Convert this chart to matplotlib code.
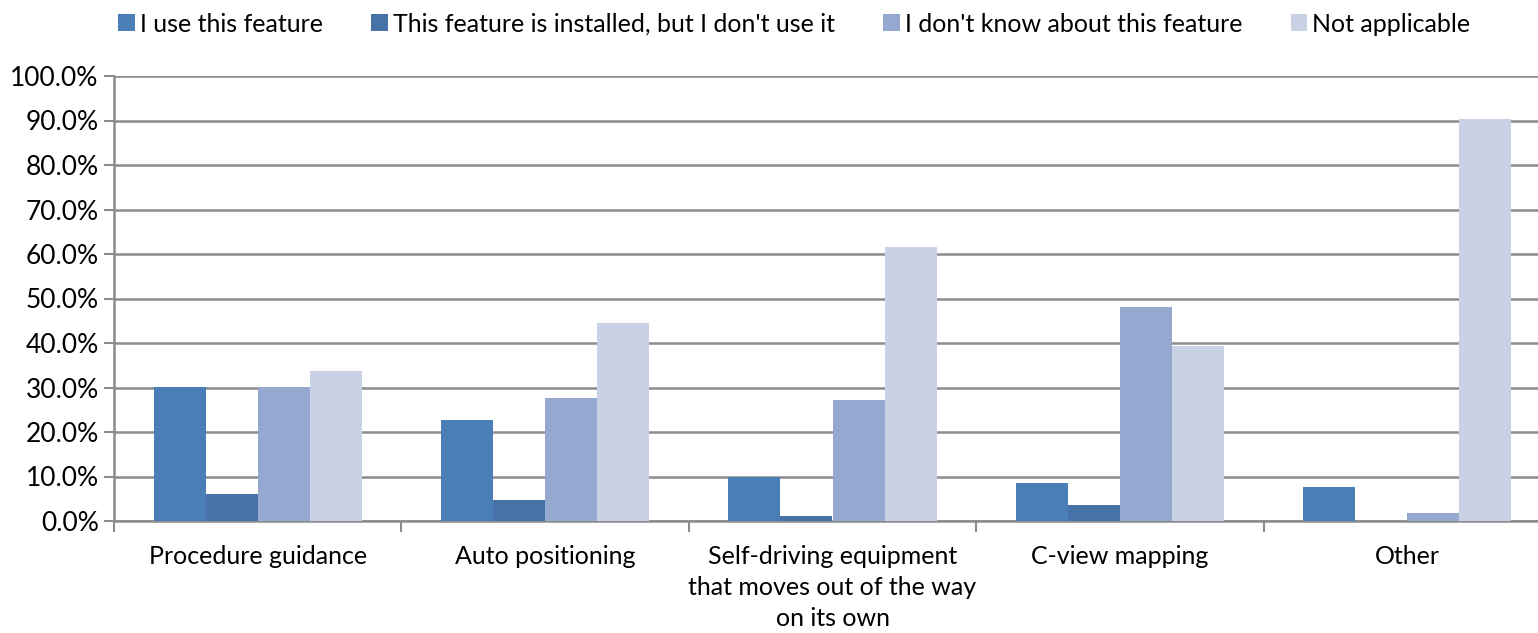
import numpy as np
import matplotlib
matplotlib.use("Agg")
import matplotlib.pyplot as plt
from matplotlib.ticker import FuncFormatter, FixedLocator

# ---------------------------------------------------------------------------
# Data (percent of respondents)
# ---------------------------------------------------------------------------
categories = [
    "Procedure guidance",
    "Auto positioning",
    "Self-driving equipment\nthat moves out of the way\non its own",
    "C-view mapping",
    "Other",
]
series_names = [
    "I use this feature",
    "This feature is installed, but I don't use it",
    "I don't know about this feature",
    "Not applicable",
]
use_it = [30.1, 22.8, 10.0, 8.6, 7.6]
installed_unused = [6.0, 4.8, 1.2, 3.6, 0.0]
dont_know = [30.1, 27.6, 27.1, 48.1, 1.8]
not_applicable = [33.7, 44.6, 61.6, 39.4, 90.3]

colors = ["#4A7EB6", "#4672A7", "#95A9D0", "#C9D2E5"]

plt.rcParams["font.family"] = ["Lato", "DejaVu Sans"]

fig = plt.figure(figsize=(15.38, 6.33), dpi=100)
# axes right edge sits a bit past the figure edge, as in the cropped original
ax = fig.add_axes([114 / 1538, 1 - 521 / 633, 1437 / 1538, 445 / 633])

x = np.arange(len(categories))
width = 0.181
all_series = [use_it, installed_unused, dont_know, not_applicable]
for i, (vals, name, col) in enumerate(zip(all_series, series_names, colors)):
    ax.bar(x + (i - 1.5) * width, vals, width, color=col, label=name,
           zorder=3, linewidth=0)

ax.set_xlim(-0.5, len(categories) - 0.5)
ax.set_ylim(0, 100)
ax.set_yticks(np.arange(0, 101, 10))
ax.yaxis.set_major_formatter(FuncFormatter(lambda v, _: f"{v:.1f}%"))
ax.grid(axis="y", color="#8C8C8C", linewidth=1.8, zorder=0)

# category labels centered, ticks on the group boundaries
ax.set_xticks(x)
ax.set_xticklabels(categories, fontsize=18, linespacing=1.42)
ax.tick_params(axis="x", length=0, pad=17)
ax.xaxis.set_minor_locator(FixedLocator(np.arange(-0.5, len(categories), 1.0)))
ax.tick_params(axis="x", which="minor", length=8, width=1.5, color="#8C8C8C",
               direction="out")
ax.tick_params(axis="y", labelsize=19, length=7, width=1.5, color="#8C8C8C",
               direction="out", pad=4)

for side in ["top", "right"]:
    ax.spines[side].set_visible(False)
for side in ["left", "bottom"]:
    ax.spines[side].set_color("#8C8C8C")
    ax.spines[side].set_linewidth(1.8)

ax.legend(loc="upper left", bbox_to_anchor=(-0.004, 1.165), ncol=4,
          frameon=False, fontsize=18, handlelength=0.65, handleheight=0.65,
          handletextpad=0.2, columnspacing=1.95, borderaxespad=0)

fig.savefig("out.png", dpi=100)
plt.close(fig)
